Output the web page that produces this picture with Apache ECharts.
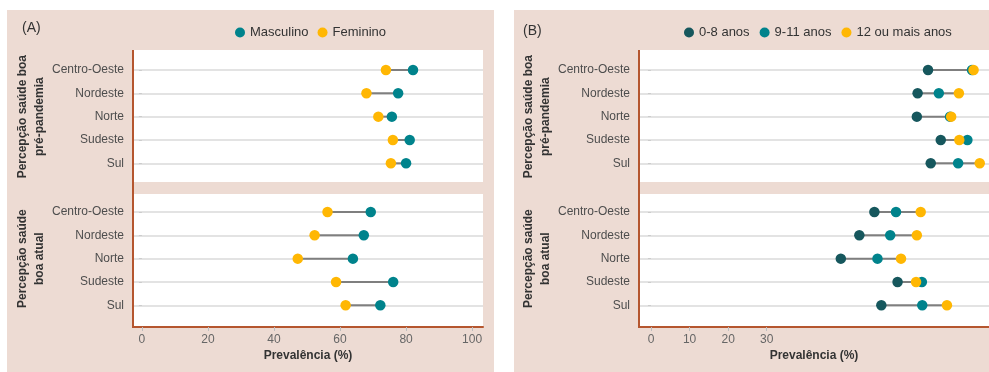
<!DOCTYPE html>
<html>
<head>
<meta charset="utf-8">
<script src="https://cdn.jsdelivr.net/npm/echarts@6/dist/echarts.min.js"></script>
<style>html,body{margin:0;padding:0;background:#fff;}#c{width:989px;height:372px;}</style>
</head>
<body>
<div id="c"></div>
<script>
// ---------- DATA ----------
const regions = ['Centro-Oeste', 'Nordeste', 'Norte', 'Sudeste', 'Sul'];
const facetNames = ['Percepção saúde boa\npré-pandemia', 'Percepção saúde\nboa atual'];
// Panel A (sexo)
const mascPre   = [82.1, 77.6, 75.7, 81.1, 80.0];
const femPre    = [73.9, 68.0, 71.6, 76.0, 75.4];
const mascAtual = [69.3, 67.2, 63.9, 76.1, 72.2];
const femAtual  = [56.2, 52.3, 47.2, 58.8, 61.7];
// Panel B (escolaridade)
const esc08Pre    = [71.8, 69.1, 68.9, 75.1, 72.5];
const esc911Pre   = [83.2, 74.6, 77.5, 82.0, 79.6];
const esc12Pre    = [83.6, 79.8, 77.8, 79.9, 85.2];
const esc08Atual  = [57.9, 54.0, 49.2, 63.9, 59.7];
const esc911Atual = [63.5, 62.0, 58.7, 70.2, 70.3];
const esc12Atual  = [69.9, 68.9, 64.8, 68.7, 76.7];
const ticksA = [0, 20, 40, 60, 80, 100];
const ticksB = [0, 10, 20, 30];

// ---------- STYLE ----------
const FONT = 'Liberation Sans, Arial, sans-serif';
const C_TEAL = '#00838C', C_DARK = '#16575D', C_YEL = '#FFB703';
const C_SEG = '#7F7F7F', C_GRID = '#DADADA', C_AXIS = '#B5562F', C_PINK = '#EDDBD3';

const chart = echarts.init(document.getElementById('c'));

const panelLeft = [133, 639];
const panelW = 350;
const facetTop = [70, 212];
const facetH = 93.3;
const xRange = [[-2.7, 103.3], [-3.1, 87.6]];
const xTicks = [ticksA, ticksB];

const grids = [], xAxes = [], yAxes = [], series = [];
let gi = 0;
for (let p = 0; p < 2; p++) {
  for (let f = 0; f < 2; f++) {
    grids.push({left: panelLeft[p], width: panelW, top: facetTop[f], height: facetH, containLabel: false});
    const isBottom = f === 1;
    xAxes.push({
      type: 'value', gridIndex: gi, min: xRange[p][0], max: xRange[p][1],
      show: isBottom, offset: 21.7,
      axisLine: {show: true, lineStyle: {color: C_AXIS, width: 2}},
      axisTick: {show: true, length: 4, lineStyle: {color: '#BDBDBD'}, customValues: xTicks[p]},
      axisLabel: {color: '#666', fontSize: 12, fontFamily: FONT, margin: 7, customValues: xTicks[p]},
      splitLine: {show: false},
      name: isBottom ? 'Prevalência (%)' : '', nameLocation: 'middle', nameGap: 23,
      nameTextStyle: {color: '#333', fontSize: 12, fontWeight: 'bold', fontFamily: FONT}
    });
    yAxes.push({
      type: 'category', gridIndex: gi, data: regions, inverse: true, boundaryGap: false,
      axisLine: {show: false},
      axisTick: {show: true, length: 3, lineStyle: {color: '#CCCCCC'}},
      axisLabel: {color: '#4D4D4D', fontSize: 12, fontFamily: FONT, margin: 9},
      splitLine: {show: true, lineStyle: {color: C_GRID, width: 1.5}},
      name: facetNames[f], nameLocation: 'middle', nameRotate: 90, nameGap: 85,
      nameTextStyle: {color: '#333', fontSize: 12, fontWeight: 'bold', fontFamily: FONT, lineHeight: 17, align: 'center'}
    });
    gi++;
  }
}

function segSeries(grid, groups) {
  const data = regions.map((r, i) => {
    const vals = groups.map(g => g[i]);
    return [Math.min(...vals), Math.max(...vals), r];
  });
  return {
    type: 'custom', xAxisIndex: grid, yAxisIndex: grid, data: data, z: 2, silent: true,
    encode: {x: [0, 1], y: 2},
    renderItem: function (params, api) {
      const a = api.coord([api.value(0), api.value(2)]);
      const b = api.coord([api.value(1), api.value(2)]);
      return {type: 'line', shape: {x1: a[0], y1: a[1], x2: b[0], y2: b[1]},
              style: {stroke: C_SEG, lineWidth: 2}};
    }
  };
}
function pts(grid, name, vals, color) {
  return {type: 'scatter', name: name, xAxisIndex: grid, yAxisIndex: grid, symbol: 'circle', symbolSize: 10.5,
          itemStyle: {color: color, opacity: 1}, z: 3, silent: true,
          data: vals.map((v, i) => [v, regions[i]])};
}

series.push(segSeries(0, [mascPre, femPre]));
series.push(pts(0, 'Masculino', mascPre, C_TEAL));
series.push(pts(0, 'Feminino', femPre, C_YEL));
series.push(segSeries(1, [mascAtual, femAtual]));
series.push(pts(1, 'Masculino', mascAtual, C_TEAL));
series.push(pts(1, 'Feminino', femAtual, C_YEL));
series.push(segSeries(2, [esc08Pre, esc911Pre, esc12Pre]));
series.push(pts(2, '0-8 anos', esc08Pre, C_DARK));
series.push(pts(2, '9-11 anos', esc911Pre, C_TEAL));
series.push(pts(2, '12 ou mais anos', esc12Pre, C_YEL));
series.push(segSeries(3, [esc08Atual, esc911Atual, esc12Atual]));
series.push(pts(3, '0-8 anos', esc08Atual, C_DARK));
series.push(pts(3, '9-11 anos', esc911Atual, C_TEAL));
series.push(pts(3, '12 ou mais anos', esc12Atual, C_YEL));

const legendText = {color: '#333', fontSize: 13, fontFamily: FONT};
const option = {
  animation: false,
  backgroundColor: '#FFFFFF',
  grid: grids, xAxis: xAxes, yAxis: yAxes, series: series,
  legend: [
    {data: ['Masculino', 'Feminino'], left: 230, top: 21, icon: 'circle', itemWidth: 10, itemHeight: 10,
     itemGap: 9, textStyle: legendText, selectedMode: false},
    {data: ['0-8 anos', '9-11 anos', '12 ou mais anos'], left: 679, top: 21, icon: 'circle', itemWidth: 10, itemHeight: 10,
     itemGap: 10, textStyle: legendText, selectedMode: false}
  ],
  graphic: [
    {type: 'rect', z: -10, silent: true, shape: {x: 7, y: 10, width: 487, height: 362}, style: {fill: C_PINK}},
    {type: 'rect', z: -10, silent: true, shape: {x: 514, y: 10, width: 475, height: 362}, style: {fill: C_PINK}},
    {type: 'rect', z: -9, silent: true, shape: {x: 133, y: 50, width: 350, height: 132}, style: {fill: '#fff'}},
    {type: 'rect', z: -9, silent: true, shape: {x: 133, y: 194, width: 350, height: 133}, style: {fill: '#fff'}},
    {type: 'rect', z: -9, silent: true, shape: {x: 639, y: 50, width: 350, height: 132}, style: {fill: '#fff'}},
    {type: 'rect', z: -9, silent: true, shape: {x: 639, y: 194, width: 350, height: 133}, style: {fill: '#fff'}},
    {type: 'line', z: 10, silent: true, shape: {x1: 133, y1: 50, x2: 133, y2: 328}, style: {stroke: C_AXIS, lineWidth: 2}},
    {type: 'line', z: 10, silent: true, shape: {x1: 639, y1: 50, x2: 639, y2: 328}, style: {stroke: C_AXIS, lineWidth: 2}},
    {type: 'text', z: 10, silent: true, x: 22, y: 28, style: {text: '(A)', fill: '#333', font: '14px ' + FONT, textVerticalAlign: 'middle'}},
    {type: 'text', z: 10, silent: true, x: 523, y: 31, style: {text: '(B)', fill: '#333', font: '14px ' + FONT, textVerticalAlign: 'middle'}}
  ]
};
chart.setOption(option);
</script>
</body>
</html>
